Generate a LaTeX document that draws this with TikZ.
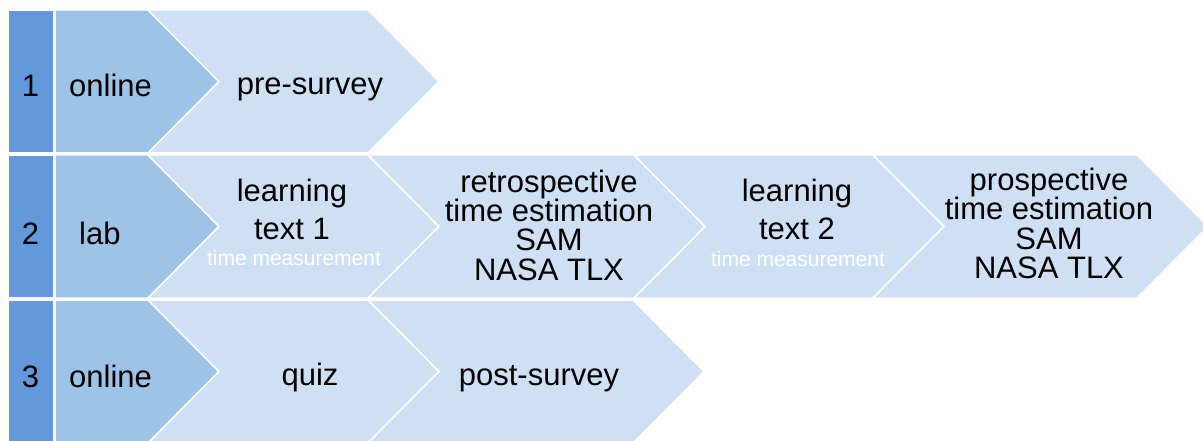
\documentclass[tikz,border=0pt]{standalone}
\usepackage{fontspec}
\setmainfont{Liberation Sans}
\definecolor{numblue}{HTML}{6399DA}
\definecolor{modeblue}{HTML}{9DC3E6}
\definecolor{stepblue}{HTML}{CFE0F4}
\begin{document}
\begin{tikzpicture}[x=1pt,y=-1pt,
  numbox/.style={fill=numblue,draw=white,line width=1.5pt},
  modebox/.style={fill=modeblue,draw=white,line width=1.5pt,line join=miter},
  stepbox/.style={fill=stepblue,draw=white,line width=1.5pt,line join=miter},
  txt/.style={anchor=base,inner sep=0pt,font=\fontsize{31}{31}\selectfont,text=black},
  ltxt/.style={txt,anchor=base west},
  small/.style={anchor=base,inner sep=0pt,font=\fontsize{21}{21}\selectfont,text=white}]
\useasboundingbox (0,0) rectangle (1203,441);
\clip (0,0) rectangle (1203,441);
% Row 1
\draw[numbox] (8,10) rectangle (54,153);
\draw[modebox] (55,10) -- (148,10) -- (219,81.5) -- (148,153) -- (55,153) -- cycle;
\draw[stepbox] (148,10) -- (368,10) -- (439,81.5) -- (368,153) -- (148,153) -- (219,81.5) -- cycle;
% Row 2
\draw[numbox] (8,155) rectangle (54,298);
\draw[modebox] (55,155) -- (148,155) -- (219,226.5) -- (148,298) -- (55,298) -- cycle;
\draw[stepbox] (148,155) -- (368,155) -- (439,226.5) -- (368,298) -- (148,298) -- (219,226.5) -- cycle;
\draw[stepbox] (368,155) -- (634,155) -- (705,226.5) -- (634,298) -- (368,298) -- (439,226.5) -- cycle;
\draw[stepbox] (634,155) -- (873,155) -- (944,226.5) -- (873,298) -- (634,298) -- (705,226.5) -- cycle;
\draw[stepbox] (873,155) -- (1137,155) -- (1208,226.5) -- (1137,298) -- (873,298) -- (944,226.5) -- cycle;
% Row 3
\draw[numbox] (8,300) rectangle (54,445);
\draw[modebox] (55,300) -- (148,300) -- (219,371.5) -- (148,443) -- (55,443) -- cycle;
\draw[stepbox] (148,300) -- (368,300) -- (439,371.5) -- (368,443) -- (148,443) -- (219,371.5) -- cycle;
\draw[stepbox] (368,300) -- (633,300) -- (704,371.5) -- (633,443) -- (368,443) -- (439,371.5) -- cycle;
% Texts row 1
\node[txt] (n1) at (30.5,97) {1};
\node[ltxt] (m1) at (69,97) {online};
\node[txt] (pre) at (310,95) {pre-survey};
% Texts row 2
\node[txt] (n2) at (30.5,244) {2};
\node[ltxt] (m2) at (79,244) {lab};
\node[txt] (l1a) at (292,202) {learning};
\node[txt] (l1b) at (292,239) {text 1};
\node[small] (l1c) at (294,265) {time measurement};
\node[txt] (ra) at (549,193) {retrospective};
\node[txt] (rb) at (549,222) {time estimation};
\node[txt] (rc) at (549,251) {SAM};
\node[txt] (rd) at (549,280) {NASA TLX};
\node[txt] (l2a) at (797,202) {learning};
\node[txt] (l2b) at (797,239) {text 2};
\node[small] (l2c) at (798,266) {time measurement};
\node[txt] (pa) at (1049,190) {prospective};
\node[txt] (pb) at (1049,219) {time estimation};
\node[txt] (pc) at (1049,249) {SAM};
\node[txt] (pd) at (1049,278) {NASA TLX};
% Texts row 3
\node[txt] (n3) at (30.5,387) {3};
\node[ltxt] (m3) at (69,387) {online};
\node[txt] (quiz) at (310,385) {quiz};
\node[txt] (post) at (539,385) {post-survey};
\end{tikzpicture}
\end{document}
